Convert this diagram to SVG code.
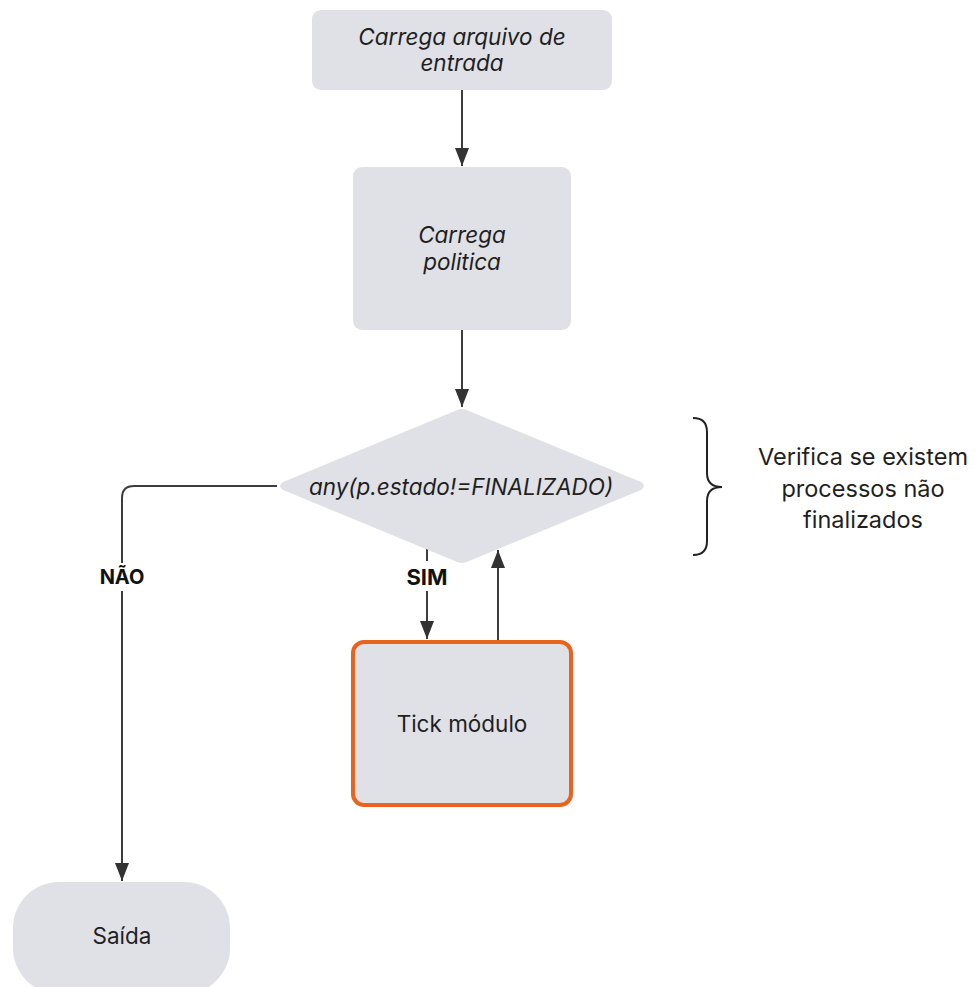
<svg xmlns="http://www.w3.org/2000/svg" width="978" height="987" viewBox="0 0 978 987">
<defs>
<style>
.node{fill:#DFE1E6;}
.t{font-family:Inter,"Liberation Sans",sans-serif;font-size:22.5px;fill:#1f1f1f;text-anchor:middle;}
.i{font-style:italic;}
.n{font-size:23.5px;}
.lbl{font-family:Inter,"Liberation Sans",sans-serif;font-size:20px;font-weight:bold;fill:#111;text-anchor:middle;}
.edge{fill:none;stroke:#3d3d3d;stroke-width:2;}
</style>
<marker id="ah" viewBox="0 0 18 14" refX="18" refY="7" markerWidth="18" markerHeight="14" markerUnits="userSpaceOnUse" orient="auto">
<path d="M0,0 L18,7 L0,14 Z" fill="#333"/>
</marker>
</defs>
<rect width="978" height="987" fill="#ffffff"/>
<g id="connectors">
<line class="edge" x1="462" y1="90" x2="462" y2="166" marker-end="url(#ah)"/>
<line class="edge" x1="462" y1="330" x2="462" y2="407" marker-end="url(#ah)"/>
<path class="edge" d="M277,486 H134 Q122,486 122,498 V881" marker-end="url(#ah)"/>
<line class="edge" x1="427" y1="549" x2="427" y2="639" marker-end="url(#ah)"/>
<line class="edge" x1="498" y1="640" x2="498" y2="550" marker-end="url(#ah)"/>
<rect x="98" y="563" width="48" height="28" fill="#ffffff"/>
<text class="lbl" x="122" y="584">NÃO</text>
<rect x="402" y="561" width="50" height="30" fill="#ffffff"/>
<text class="lbl" x="427" y="585" style="font-size:22px">SIM</text>
</g>
<g id="n1">
<rect class="node" x="312" y="10" width="300" height="80" rx="9"/>
<text class="t i" x="462" y="45">Carrega arquivo de</text>
<text class="t i" x="462" y="71">entrada</text>
</g>
<g id="n2">
<rect class="node" x="353" y="167" width="218" height="163" rx="9"/>
<text class="t i" x="462" y="243">Carrega</text>
<text class="t i" x="462" y="270">politica</text>
</g>
<g id="n3">
<path class="node" d="M455,411 Q462,407 469,411 L641,482 Q647,486 641,490 L469,561 Q462,565 455,561 L283,490 Q277,486 283,482 Z"/>
<text class="t i" x="461" y="495">any(p.estado!=FINALIZADO)</text>
</g>
<g id="n4">
<rect class="node" x="353" y="642" width="218" height="163" rx="11" stroke="#E8641E" stroke-width="4"/>
<text class="t" x="462" y="732">Tick módulo</text>
</g>
<g id="n5">
<rect class="node" x="13" y="882" width="217" height="112" rx="46"/>
<text class="t" x="122" y="944">Saída</text>
</g>
<g id="note">
<path d="M693,418 Q707,418 707,432 V473 Q707,487 722,487 Q707,487 707,501 V541 Q707,555 693,555" fill="none" stroke="#222" stroke-width="2"/>
<text class="t n" x="863" y="465">Verifica se existem</text>
<text class="t n" x="863" y="497">processos não</text>
<text class="t n" x="863" y="528">finalizados</text>
</g>
</svg>
